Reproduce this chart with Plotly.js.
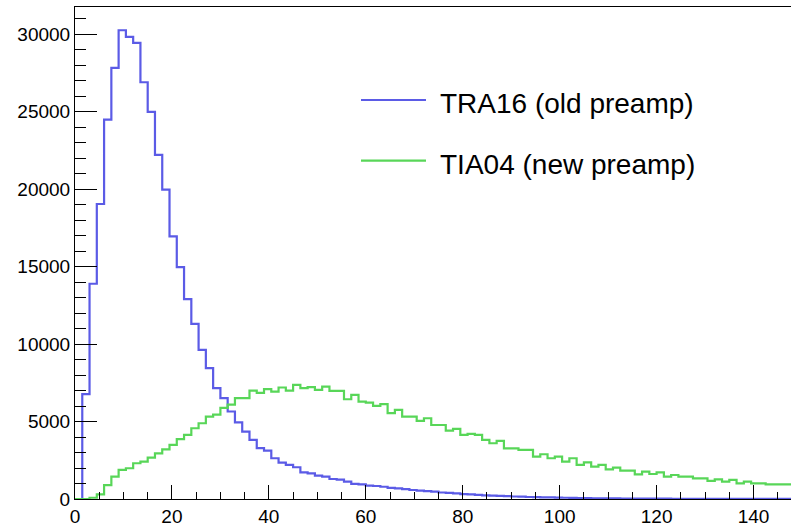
<!DOCTYPE html>
<html>
<head>
<meta charset="utf-8">
<script src="https://cdn.plot.ly/plotly-3.0.1.min.js"></script>
<style>
html,body{margin:0;padding:0;overflow:hidden;background:#fff;}
#chart{width:805px;height:528px;}
</style>
</head>
<body>
<div id="chart"></div>
<script>
// Histogram binning: 100 bins, 0 to 150
var binWidth = 1.5;
var xMin = 0;

var seriesNames = ["TRA16 (old preamp)", "TIA04 (new preamp)"];

// TRA16 (old preamp) bin contents
var tra16 = [
  0, 6770, 13900, 19050, 24500, 27840, 30270, 29840, 29450, 26910,
  25000, 22220, 19975, 16955, 14975, 12910, 11310, 9630, 8450, 7155,
  6510, 5650, 4950, 4350, 3815, 3280, 3120, 2630, 2350, 2200,
  2050, 1720, 1650, 1510, 1440, 1290, 1250, 1120, 980, 950,
  860, 840, 790, 720, 690, 640, 580, 540, 510, 470,
  420, 400, 360, 320, 300, 270, 240, 220, 200, 180,
  160, 150, 130, 120, 110, 100, 90, 80, 70, 60,
  55, 50, 45, 40, 36, 32, 30, 27, 25, 22,
  20, 18, 16, 15, 13, 12, 11, 10, 9, 8,
  8, 7, 6, 6, 5, 5, 4, 4, 3, 3
];

// TIA04 (new preamp) bin contents
var tia04 = [
  0, 0, 80, 300, 900, 1440, 1875, 1985, 2310, 2410,
  2670, 2950, 3210, 3490, 3860, 4140, 4570, 4890, 5320, 5450,
  5880, 6100, 6510, 6510, 7000, 6850, 7090, 6940, 7200, 7000,
  7370, 7160, 7220, 7045, 7260, 6980, 6980, 6440, 6720, 6290,
  6225, 6010, 6120, 5540, 5750, 5320, 5320, 5040, 5215, 4780,
  4780, 4415, 4525, 4140, 4200, 4140, 3815, 3600, 3750, 3275,
  3275, 3170, 3170, 2735, 2890, 2630, 2735, 2410, 2630, 2200,
  2370, 2090, 2200, 1915, 2025, 1830, 1830, 1595, 1765, 1615,
  1725, 1440, 1550, 1440, 1440, 1335, 1335, 1165, 1270, 1120,
  1230, 1010, 1120, 1010, 1010, 950, 950, 950, 950, 930
];

var colors = ["#5b5be6", "#58d658"];

function stepTrace(values, name, color) {
  var xs = [], ys = [];
  for (var i = 0; i < values.length; i++) {
    xs.push(xMin + i * binWidth);
    ys.push(values[i]);
  }
  xs.push(xMin + values.length * binWidth);
  ys.push(values[values.length - 1]);
  return {
    type: "scatter", mode: "lines", x: xs, y: ys, name: name,
    line: {shape: "hv", color: color, width: 2.2},
    showlegend: false, hoverinfo: "skip"
  };
}

var data = [
  stepTrace(tra16, seriesNames[0], colors[0]),
  stepTrace(tia04, seriesNames[1], colors[1])
];

var font = "Liberation Sans, Arial, Helvetica, sans-serif";

var layout = {
  width: 805, height: 528,
  margin: {l: 75, r: 3, t: 7, b: 29},
  paper_bgcolor: "#fff", plot_bgcolor: "#fff",
  separators: ".",
  font: {family: font, color: "#000"},
  xaxis: {
    range: [0, 150], tick0: 0, dtick: 20,
    ticks: "inside", ticklen: 14, tickwidth: 1, tickcolor: "#000",
    minor: {dtick: 5, ticklen: 7, ticks: "inside", tickcolor: "#000", tickwidth: 1, showgrid: false},
    showline: true, mirror: true, linecolor: "#000", linewidth: 1,
    showgrid: false, zeroline: false,
    tickfont: {family: font, size: 19, color: "#000"}
  },
  yaxis: {
    range: [0, 31770], tick0: 0, dtick: 5000,
    ticks: "inside", ticklen: 22, tickwidth: 1, tickcolor: "#000",
    minor: {dtick: 1000, ticklen: 11, ticks: "inside", tickcolor: "#000", tickwidth: 1, showgrid: false},
    showline: true, mirror: true, linecolor: "#000", linewidth: 1,
    showgrid: false, zeroline: false,
    tickformat: "d", exponentformat: "none", separatethousands: false,
    tickfont: {family: font, size: 19, color: "#000"}
  },
  shapes: [
    {type: "line", xref: "paper", yref: "paper", x0: 0.3934, x1: 0.4828, y0: 0.811, y1: 0.811,
     line: {color: colors[0], width: 2.2}},
    {type: "line", xref: "paper", yref: "paper", x0: 0.3934, x1: 0.4828, y0: 0.6876, y1: 0.6876,
     line: {color: colors[1], width: 2.2}}
  ],
  annotations: [
    {xref: "paper", yref: "paper", x: 0.4993, y: 0.803, xanchor: "left", yanchor: "middle",
     text: seriesNames[0], showarrow: false, font: {family: font, size: 28, color: "#000"}},
    {xref: "paper", yref: "paper", x: 0.4993, y: 0.679, xanchor: "left", yanchor: "middle",
     text: seriesNames[1], showarrow: false, font: {family: font, size: 28, color: "#000"}}
  ]
};

Plotly.newPlot("chart", data, layout, {displayModeBar: false, staticPlot: true});
</script>
</body>
</html>
